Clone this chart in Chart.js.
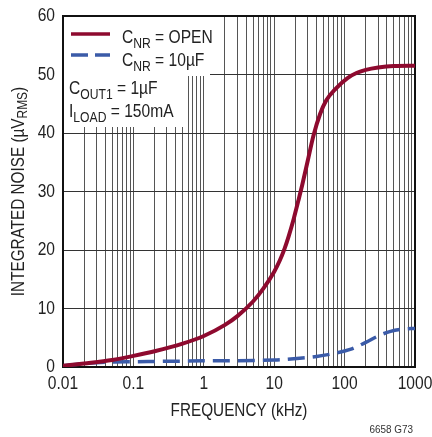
<!DOCTYPE html>
<html>
<head>
<meta charset="UTF-8">
<title>Integrated Noise vs Frequency</title>
<script src="https://cdn.jsdelivr.net/npm/chart.js"></script>
<style>
  html, body { margin: 0; padding: 0; background: #fff; }
  #noiseChart { display: block; }
</style>
</head>
<body>
<canvas id="noiseChart" width="432" height="437"></canvas>
<script>
// frequency points (kHz)
const freqOpen = [0.01, 0.02, 0.05, 0.1, 0.2, 0.5, 1, 2, 3, 5, 7, 10, 12, 14, 16, 19, 22, 25, 30, 36, 45, 55, 75, 110, 150, 200, 300, 500, 1000];
const noiseOpen = [0.2, 0.6, 1.2, 1.9, 2.7, 4.0, 5.3, 7.2, 8.7, 11.2, 13.4, 16.3, 18.2, 20.2, 22.3, 25.4, 28.4, 31.1, 35.3, 39.5, 43.3, 45.6, 47.6, 49.4, 50.3, 50.8, 51.2, 51.45, 51.5];

const freq10u = [0.01, 0.02, 0.05, 0.1, 1, 10, 23, 40, 70, 120, 200, 300, 450, 700, 1000];
const noise10u = [0.2, 0.6, 0.85, 0.9, 1.05, 1.2, 1.5, 1.8, 2.3, 3.0, 4.2, 5.3, 6.1, 6.5, 6.6];

const xDecades = [0.01, 0.1, 1, 10, 100, 1000];
const yTicks = [0, 10, 20, 30, 40, 50, 60];

const FONT = "'Liberation Sans', Arial, sans-serif";
const SX = 0.82; // narrow look
const RED = '#8e0a2f';
const BLUE = '#3b5ba8';
const INK = '#222';

function pts(xs, ys) {
    return xs.map((x, i) => ({ x: x, y: ys[i] }));
}

// text with subscript parts: [[text, isSub], ...], drawn horizontally squeezed
function richWidth(ctx, parts, size, sx) {
    let w = 0;
    parts.forEach(p => {
        ctx.font = (p[1] ? size * 0.78 : size) + 'px ' + FONT;
        w += ctx.measureText(p[0]).width;
    });
    return w * sx;
}
function drawRich(ctx, parts, x, y, size, sx, align) {
    const w = richWidth(ctx, parts, size, sx);
    let start = x;
    if (align === 'center') start = x - w / 2;
    if (align === 'right') start = x - w;
    ctx.save();
    ctx.translate(start, y);
    ctx.scale(sx, 1);
    let cx = 0;
    parts.forEach(p => {
        const s = p[1] ? size * 0.78 : size;
        ctx.font = s + 'px ' + FONT;
        ctx.fillText(p[0], cx, p[1] ? size * 0.25 : 0);
        cx += ctx.measureText(p[0]).width;
    });
    ctx.restore();
}

const decor = {
    id: 'decor',
    beforeDatasetsDraw(chart) {
        const ctx = chart.ctx;
        const a = chart.chartArea;
        ctx.save();
        // white box behind the legend / notes
        ctx.fillStyle = '#fff';
        ctx.fillRect(a.left, a.top, 210 - a.left, 76 - a.top);
        ctx.fillRect(a.left, a.top, 186 - a.left, 127 - a.top);

        // legend samples
        ctx.lineWidth = 3.5;
        ctx.strokeStyle = RED;
        ctx.beginPath(); ctx.moveTo(71, 34); ctx.lineTo(110, 34); ctx.stroke();
        ctx.strokeStyle = BLUE;
        ctx.setLineDash([17, 7]);
        ctx.beginPath(); ctx.moveTo(71, 55); ctx.lineTo(110, 55); ctx.stroke();
        ctx.setLineDash([]);

        ctx.fillStyle = INK;
        ctx.textBaseline = 'alphabetic';
        ctx.textAlign = 'left';
        drawRich(ctx, [['C', false], ['NR', true], [' = OPEN', false]], 122, 43, 19, SX);
        drawRich(ctx, [['C', false], ['NR', true], [' = 10µF', false]], 122, 66, 19, SX);
        drawRich(ctx, [['C', false], ['OUT1', true], [' = 1µF', false]], 69, 94, 19, SX);
        drawRich(ctx, [['I', false], ['LOAD', true], [' = 150mA', false]], 69, 117, 19, SX);

        // frame
        ctx.strokeStyle = '#111';
        ctx.lineWidth = 2;
        ctx.strokeRect(a.left, a.top, a.right - a.left, a.bottom - a.top);
        ctx.restore();
    },
    afterDraw(chart) {
        const ctx = chart.ctx;
        const a = chart.chartArea;
        const xs = chart.scales.x, ys = chart.scales.y;
        ctx.save();
        ctx.fillStyle = INK;
        ctx.textBaseline = 'middle';
        ctx.textAlign = 'left';

        // tick labels
        yTicks.forEach(v => {
            drawRich(ctx, [[String(v), false]], a.left - 8, ys.getPixelForValue(v), 19, SX, 'right');
        });
        xDecades.forEach(v => {
            drawRich(ctx, [[String(v), false]], xs.getPixelForValue(v), 384, 19, SX, 'center');
        });

        // axis titles
        drawRich(ctx, [['FREQUENCY (kHz)', false]], (a.left + a.right) / 2, 411, 18, 0.85, 'center');
        ctx.save();
        ctx.translate(19, (a.top + a.bottom) / 2);
        ctx.rotate(-Math.PI / 2);
        drawRich(ctx, [['INTEGRATED NOISE (µV', false], ['RMS', true], [')', false]], 0, 0, 18, 0.85, 'center');
        ctx.restore();

        ctx.fillStyle = '#333';
        drawRich(ctx, [['6658 G73', false]], 413, 430, 11, 0.9, 'right');
        ctx.restore();
    }
};

new Chart(document.getElementById('noiseChart').getContext('2d'), {
    type: 'line',
    data: {
        datasets: [
            {
                label: 'CNR = OPEN',
                data: pts(freqOpen, noiseOpen),
                borderColor: RED,
                borderWidth: 4,
                pointRadius: 0,
                cubicInterpolationMode: 'monotone'
            },
            {
                label: 'CNR = 10µF',
                data: pts(freq10u, noise10u),
                borderColor: BLUE,
                borderWidth: 3.5,
                borderDash: [17, 8],
                pointRadius: 0,
                cubicInterpolationMode: 'monotone'
            }
        ]
    },
    options: {
        responsive: false,
        animation: false,
        layout: { padding: { top: 16, right: 17, left: 0, bottom: 0 } },
        plugins: { legend: { display: false }, tooltip: { enabled: false } },
        scales: {
            x: {
                type: 'logarithmic',
                min: 0.01,
                max: 1000,
                afterBuildTicks(scale) {
                    const t = [];
                    for (let d = 0; d < xDecades.length; d++) {
                        const base = xDecades[d];
                        const n = d === xDecades.length - 1 ? 1 : 9;
                        for (let k = 1; k <= n; k++) t.push({ value: +(base * k).toPrecision(3) });
                    }
                    scale.ticks = t;
                },
                afterFit(scale) { scale.height = 70; },
                ticks: { display: false, autoSkip: false },
                grid: { color: '#555', lineWidth: 1, drawTicks: false },
                border: { display: false }
            },
            y: {
                min: 0,
                max: 60,
                afterBuildTicks(scale) {
                    scale.ticks = yTicks.map(v => ({ value: v }));
                },
                afterFit(scale) { scale.width = 63; },
                ticks: { display: false },
                grid: { color: '#333', lineWidth: 1, drawTicks: false },
                border: { display: false }
            }
        }
    },
    plugins: [decor]
});
</script>
</body>
</html>
